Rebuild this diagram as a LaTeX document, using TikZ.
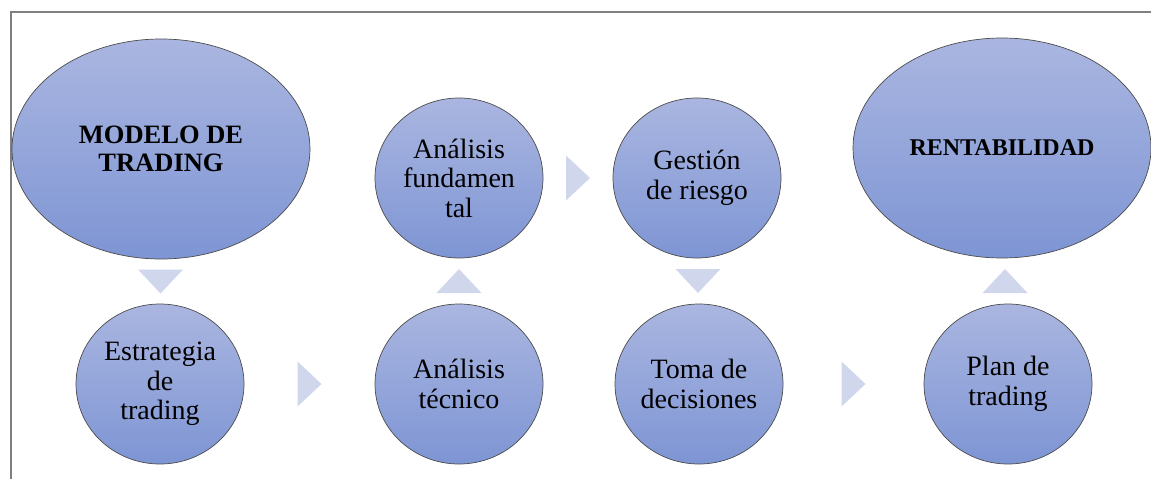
\documentclass[tikz,border=0pt]{standalone}
\usepackage{fontspec}
\setmainfont{Liberation Serif}
\usepackage{tikz}
\usetikzlibrary{shapes.geometric, calc}
\definecolor{cirtop}{RGB}{170,182,224}
\definecolor{cirbot}{RGB}{126,149,212}
\definecolor{trifill}{RGB}{208,215,236}
\definecolor{framegr}{RGB}{128,128,128}

\begin{document}
\begin{tikzpicture}[x=1pt, y=-1pt,
bubble/.style={ellipse, draw=black!70, line width=0.7pt, top color=cirtop, bottom color=cirbot, inner sep=0pt, align=center, font=\fontsize{28}{29.5}\selectfont, minimum width=168pt, minimum height=160pt},
bigbubble/.style={bubble, minimum width=298pt, minimum height=220pt, font=\fontsize{26.5}{28}\selectfont\bfseries}]
\useasboundingbox (0,0) rectangle (1151,479);
\draw[framegr, line width=1.5pt] (11,479) -- (11,12) -- (1151,12);

\node[bigbubble] (modelo) at (161,149) {MODELO DE\\TRADING};
\node[bigbubble, font=\fontsize{24}{28}\selectfont\bfseries] (renta) at (1002,148) {RENTABILIDAD};
\node[bubble] (estrategia) at (160,384) {Estrategia\\de\\trading};
\node[bubble] (tecnico) at (459,384) {Análisis\\técnico};
\node[bubble] (fundamental) at (459,178) {Análisis\\fundamen\\tal};
\node[bubble] (gestion) at (697,178) {Gestión\\de riesgo};
\node[bubble] (toma) at (699,384) {Toma de\\decisiones};
\node[bubble] (plan) at (1008,384) {Plan de\\trading};

\foreach \a/\sa/\b/\sb/\r in {modelo/south/estrategia/north/-90, estrategia/east/tecnico/west/0, tecnico/north/fundamental/south/90, fundamental/east/gestion/west/0, gestion/south/toma/north/-90, toma/east/plan/west/0, plan/north/renta/south/90}{
\coordinate (m) at ($(\a.\sa)!0.5!(\b.\sb)$);
\fill[trifill, shift={(m)}, rotate=\r] (-12,-22.5) -- (12,0) -- (-12,22.5) -- cycle;
}
\end{tikzpicture}
\end{document}
